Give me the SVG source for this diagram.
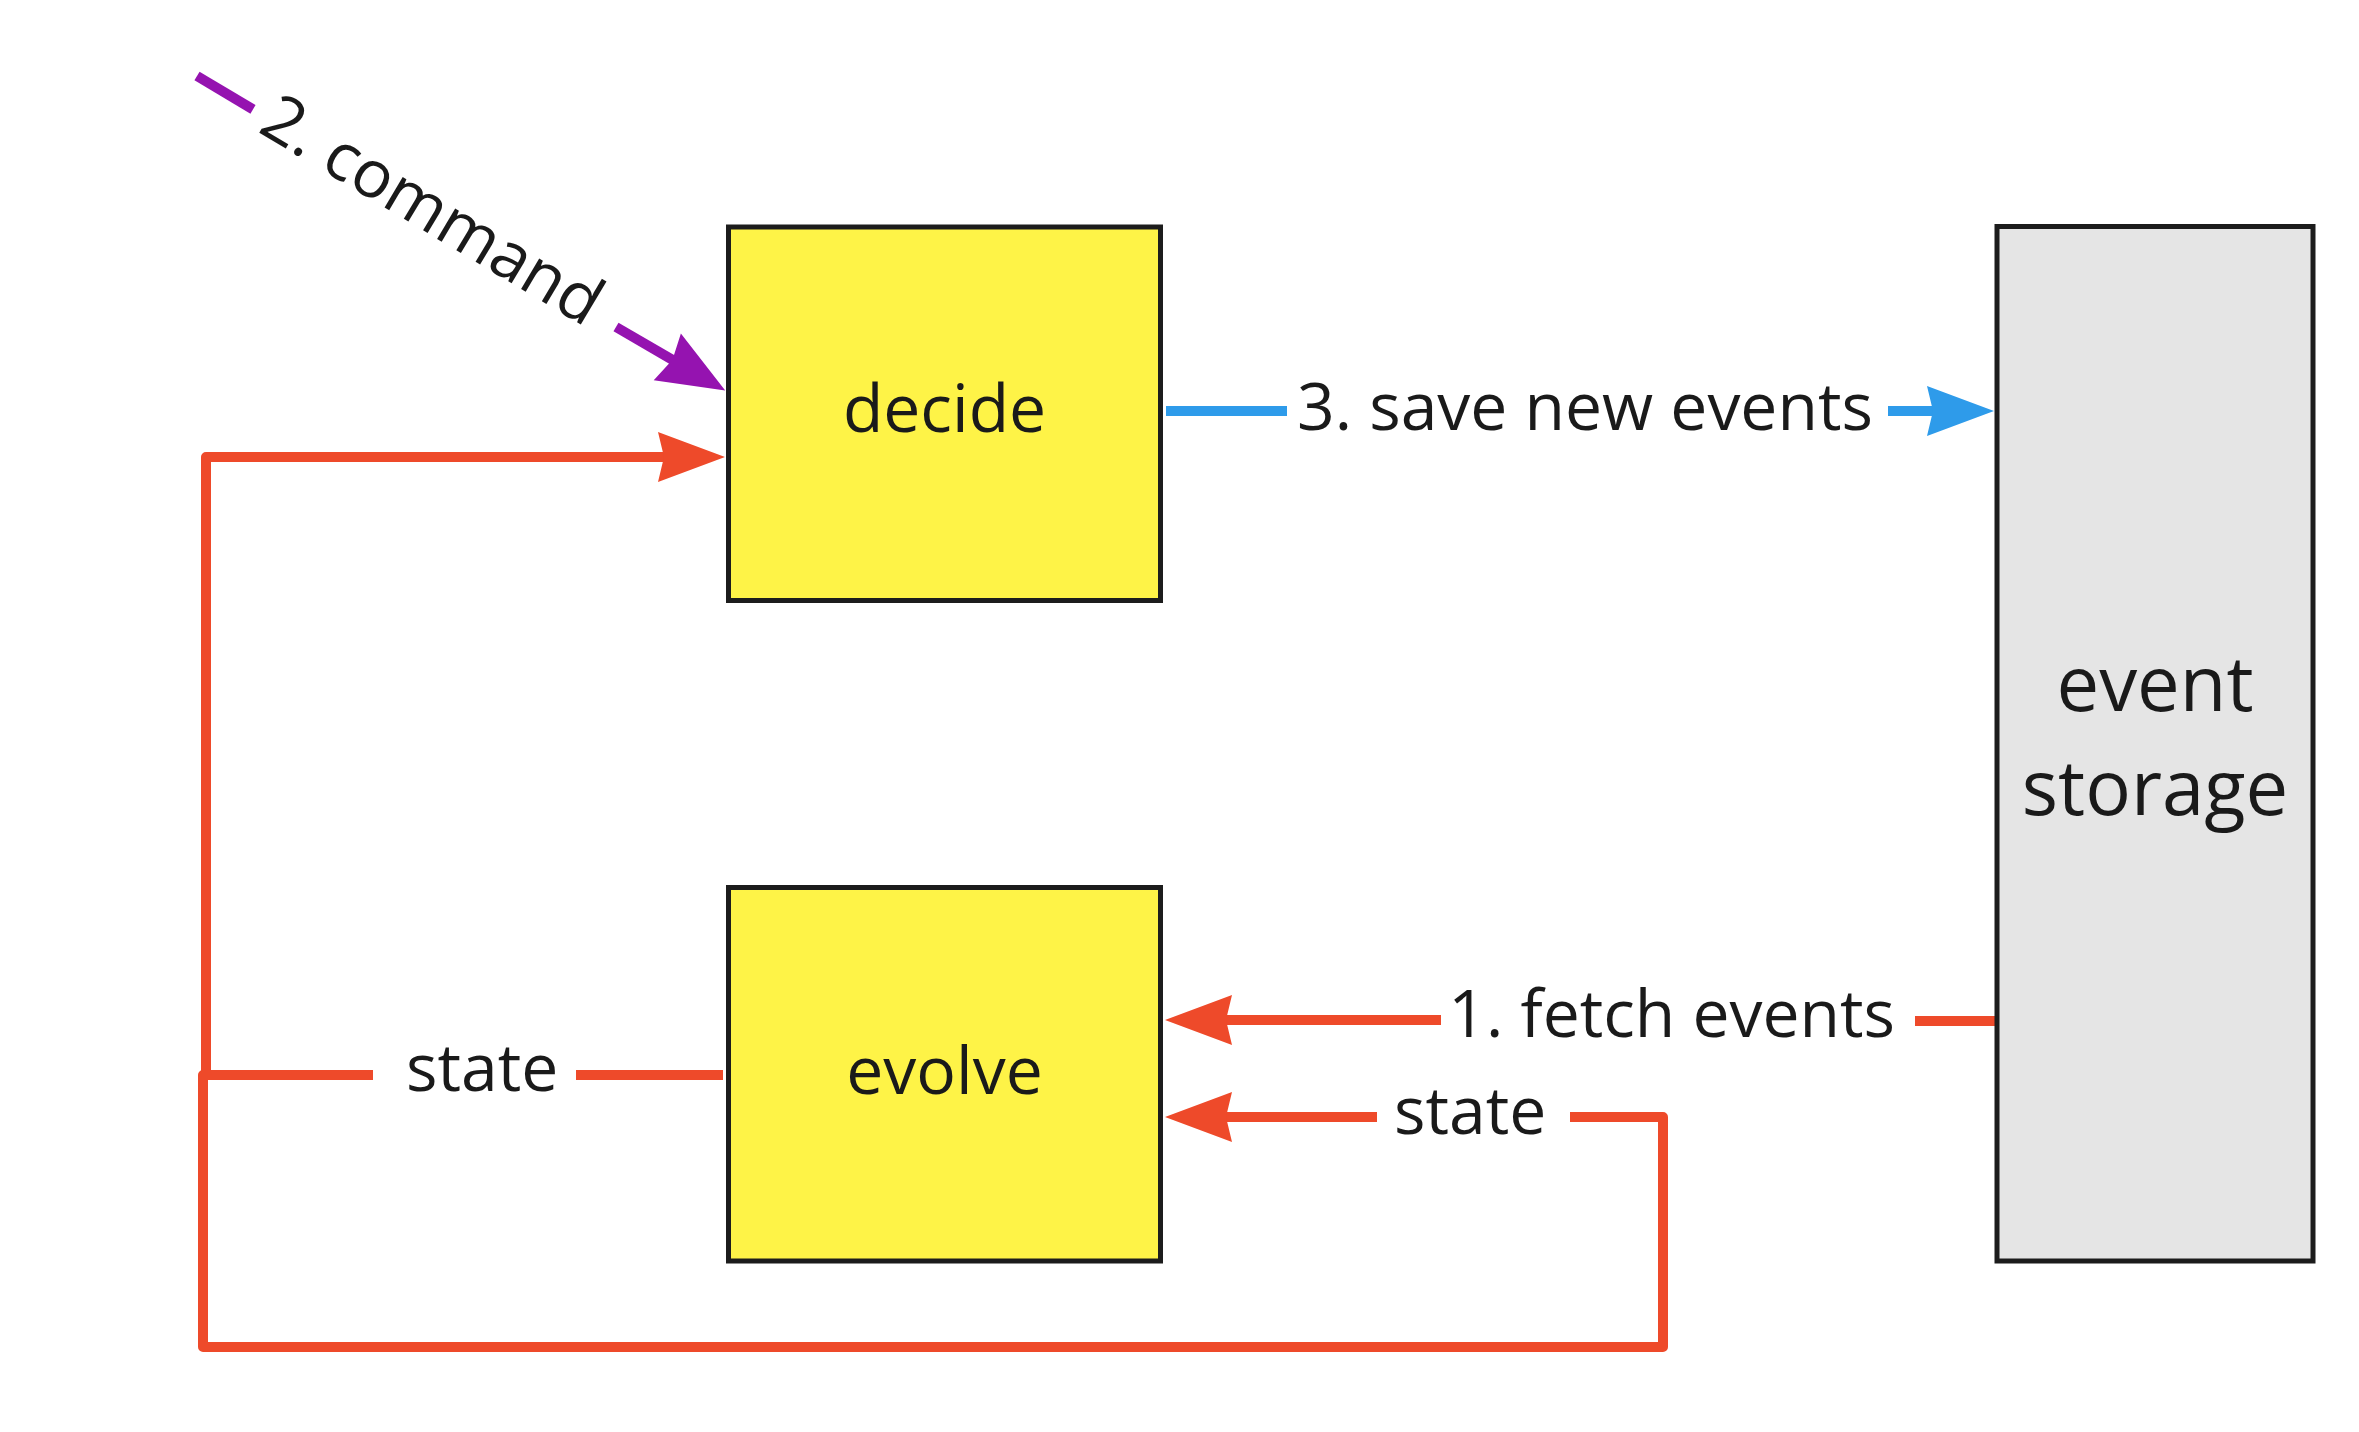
<svg xmlns="http://www.w3.org/2000/svg" width="2359" height="1432" viewBox="0 0 2359 1432">
<style>
.box{stroke:#1c1c1c;stroke-width:5}
.yel{fill:#FEF347}
.gry{fill:#E5E5E5}
.t{font-family:"Open Sans","Liberation Sans",sans-serif;font-size:66px;fill:#1a1a1a}
.big{font-size:76px}
.c{fill:none;stroke-width:10;stroke-linejoin:round;stroke-linecap:butt}
.red{stroke:#EE4A2A}
.blue{stroke:#2E9BEA}
.pur{stroke:#9513B0}
</style>
<defs>
<marker id="hr" markerUnits="userSpaceOnUse" viewBox="0 -28 70 56" markerWidth="70" markerHeight="56" refX="17" refY="0" orient="auto" overflow="visible"><path d="M0,-25 L67,0 L0,25 L6,0 Z" fill="#EE4A2A"/></marker>
<marker id="hb" markerUnits="userSpaceOnUse" viewBox="0 -28 70 56" markerWidth="70" markerHeight="56" refX="17" refY="0" orient="auto" overflow="visible"><path d="M0,-25 L67,0 L0,25 L6,0 Z" fill="#2E9BEA"/></marker>
<marker id="hp" markerUnits="userSpaceOnUse" viewBox="0 -28 70 56" markerWidth="70" markerHeight="56" refX="17" refY="0" orient="auto" overflow="visible"><path d="M0,-27 L67,0 L0,27 L6,0 Z" fill="#9513B0"/></marker>
</defs>
<rect width="2359" height="1432" fill="#ffffff"/>
<g id="connectors">
<g id="c-command">
<path class="c pur" d="M197,76 L253,109.4"/>
<path class="c pur" d="M616,327 L682,365.4" marker-end="url(#hp)"/>
<text class="t" transform="translate(256.5,131) rotate(30.83)">2. command</text>
</g>
<g id="c-state-decide">
<path class="c red" d="M723,1075 H576"/>
<path class="c red" d="M373,1075 H206 V457 H675" marker-end="url(#hr)"/>
<text class="t" x="406" y="1091">state</text>
</g>
<g id="c-state-evolve">
<path class="c red" d="M373,1075 H203 V1347 H1663 V1117 H1570"/>
<path class="c red" d="M1377,1117 H1215" marker-end="url(#hr)"/>
<text class="t" x="1394" y="1134">state</text>
</g>
<g id="c-fetch">
<path class="c red" d="M1995,1021 H1915"/>
<path class="c red" d="M1441,1020 H1215" marker-end="url(#hr)"/>
<text class="t" x="1895" y="1037" text-anchor="end">1. fetch events</text>
</g>
<g id="c-save">
<path class="c blue" d="M1166,411 H1287"/>
<path class="c blue" d="M1888,411 H1944" marker-end="url(#hb)"/>
<text class="t" x="1297" y="430">3. save new events</text>
</g>
</g>
<g id="decide">
<rect class="box yel" x="728.5" y="227" width="432" height="373.5"/>
<text class="t" x="944.5" y="432" text-anchor="middle">decide</text>
</g>
<g id="evolve">
<rect class="box yel" x="728.5" y="887.5" width="432" height="373.5"/>
<text class="t" x="944.5" y="1094" text-anchor="middle">evolve</text>
</g>
<g id="event-storage">
<rect class="box gry" x="1997" y="226.5" width="316" height="1034.5"/>
<text class="t big" x="2155" y="711" text-anchor="middle">event</text>
<text class="t big" x="2155" y="815" text-anchor="middle">storage</text>
</g>
</svg>
